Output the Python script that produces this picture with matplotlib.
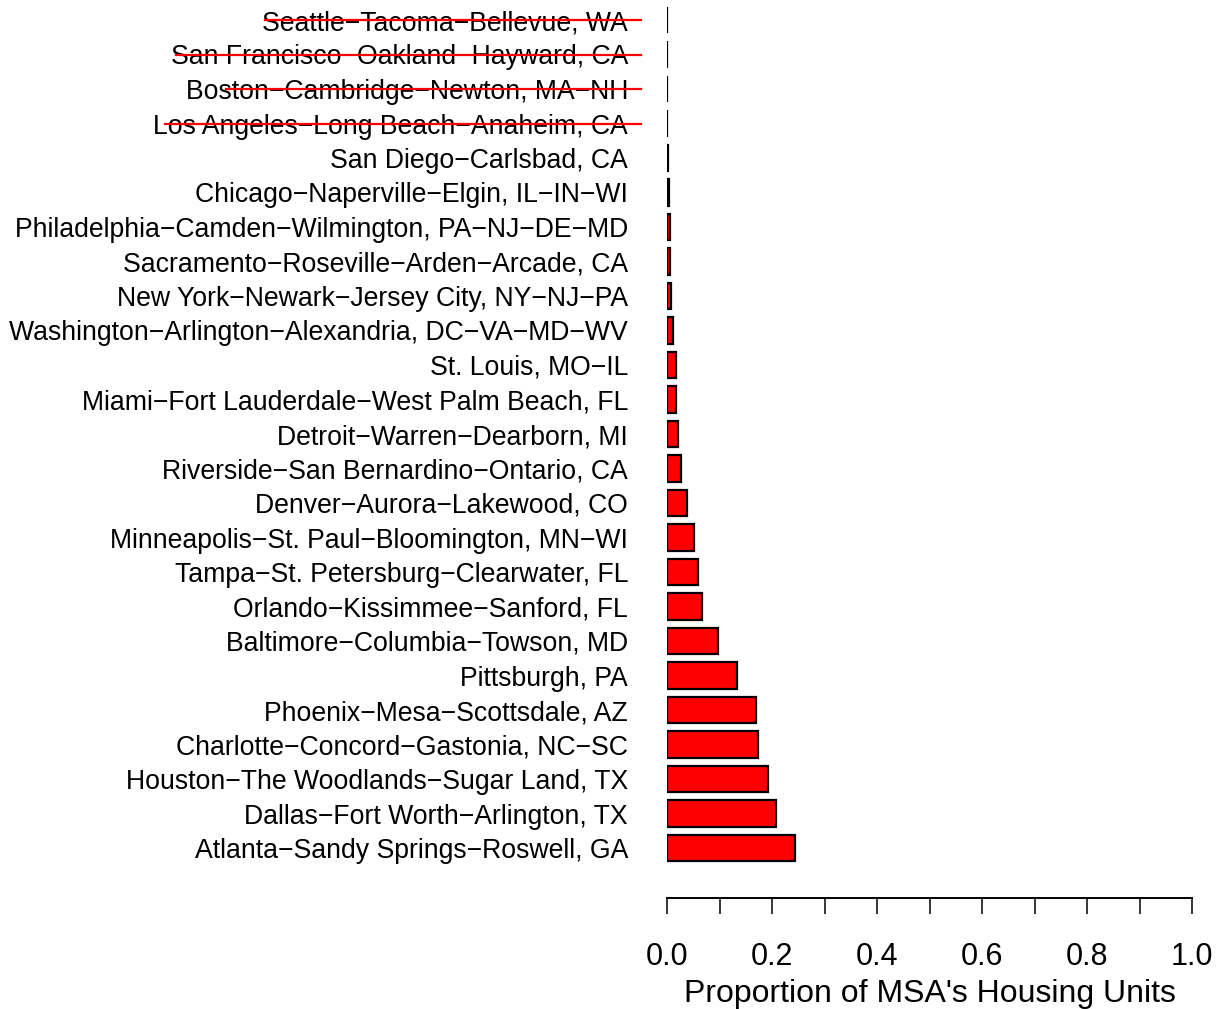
import matplotlib
matplotlib.use("Agg")
import matplotlib.pyplot as plt
from matplotlib.lines import Line2D

plt.rcParams['font.family'] = ['Liberation Sans', 'DejaVu Sans']

# Data (bottom to top)
msas = [
    "Atlanta−Sandy Springs−Roswell, GA",
    "Dallas−Fort Worth−Arlington, TX",
    "Houston−The Woodlands−Sugar Land, TX",
    "Charlotte−Concord−Gastonia, NC−SC",
    "Phoenix−Mesa−Scottsdale, AZ",
    "Pittsburgh, PA",
    "Baltimore−Columbia−Towson, MD",
    "Orlando−Kissimmee−Sanford, FL",
    "Tampa−St. Petersburg−Clearwater, FL",
    "Minneapolis−St. Paul−Bloomington, MN−WI",
    "Denver−Aurora−Lakewood, CO",
    "Riverside−San Bernardino−Ontario, CA",
    "Detroit−Warren−Dearborn, MI",
    "Miami−Fort Lauderdale−West Palm Beach, FL",
    "St. Louis, MO−IL",
    "Washington−Arlington−Alexandria, DC−VA−MD−WV",
    "New York−Newark−Jersey City, NY−NJ−PA",
    "Sacramento−Roseville−Arden−Arcade, CA",
    "Philadelphia−Camden−Wilmington, PA−NJ−DE−MD",
    "Chicago−Naperville−Elgin, IL−IN−WI",
    "San Diego−Carlsbad, CA",
    "Los Angeles−Long Beach−Anaheim, CA",
    "Boston−Cambridge−Newton, MA−NH",
    "San Francisco−Oakland−Hayward, CA",
    "Seattle−Tacoma−Bellevue, WA",
]
proportions = [0.244, 0.208, 0.192, 0.174, 0.169, 0.134, 0.097, 0.066, 0.059,
               0.052, 0.039, 0.027, 0.020, 0.018, 0.0175, 0.011, 0.007, 0.006,
               0.0055, 0.003, 0.0025, 0.0, 0.0, 0.0, 0.0]
struck = ["Los Angeles−Long Beach−Anaheim, CA",
          "Boston−Cambridge−Newton, MA−NH",
          "San Francisco−Oakland−Hayward, CA",
          "Seattle−Tacoma−Bellevue, WA"]
# where the strike line starts, in px from the label's left edge
strike_offsets_px = [12, 40, 5, 3]
xticks = [i / 10 for i in range(11)]
xticklabels = ["0.0", "", "0.2", "", "0.4", "", "0.6", "", "0.8", "", "1.0"]
xlabel = "Proportion of MSA's Housing Units"

W, H = 1220, 1009
fig = plt.figure(figsize=(W / 100, H / 100), dpi=100)
left, right = 667, 1192
bottom_px, top_px = 898, 3
ax = fig.add_axes([left / W, (H - bottom_px) / H, (right - left) / W, (bottom_px - top_px) / H])

pos = list(range(len(msas)))
ax.barh(pos, proportions, height=0.78, color='#FF0000', edgecolor='black', linewidth=1.6)

ax.set_xlim(0, 1)
spacing = 34.5
ax.set_ylim(-(bottom_px - 848) / spacing, 24 + (20 - top_px) / spacing)

for s in ['top', 'right', 'left']:
    ax.spines[s].set_visible(False)
ax.spines['bottom'].set_linewidth(1.4)

ax.set_xticks(xticks)
ax.set_xticklabels(xticklabels, fontsize=22)
ax.tick_params(axis='x', length=11.5, width=1.1, pad=20, direction='out')
ax.set_yticks(pos)
ax.set_yticklabels(msas, fontsize=19.2)
ax.tick_params(axis='y', length=0, pad=28)
fig.text((left + right) / 2 / W, (H - 1002) / H, xlabel, fontsize=23,
         ha='center', va='baseline')

fig.canvas.draw()
renderer = fig.canvas.get_renderer()
end_x = left - 26
for lab in ax.get_yticklabels():
    txt = lab.get_text()
    if txt in struck:
        off = strike_offsets_px[struck.index(txt)]
        bb = lab.get_window_extent(renderer)
        y = msas.index(txt)
        ydisp = ax.transData.transform((0, y))[1]
        x0 = bb.x0 + off
        line = Line2D([x0 / W, end_x / W], [ydisp / H, ydisp / H],
                      transform=fig.transFigure, color='#FF0000', linewidth=1.6)
        fig.add_artist(line)

fig.savefig("out.png", dpi=100)
